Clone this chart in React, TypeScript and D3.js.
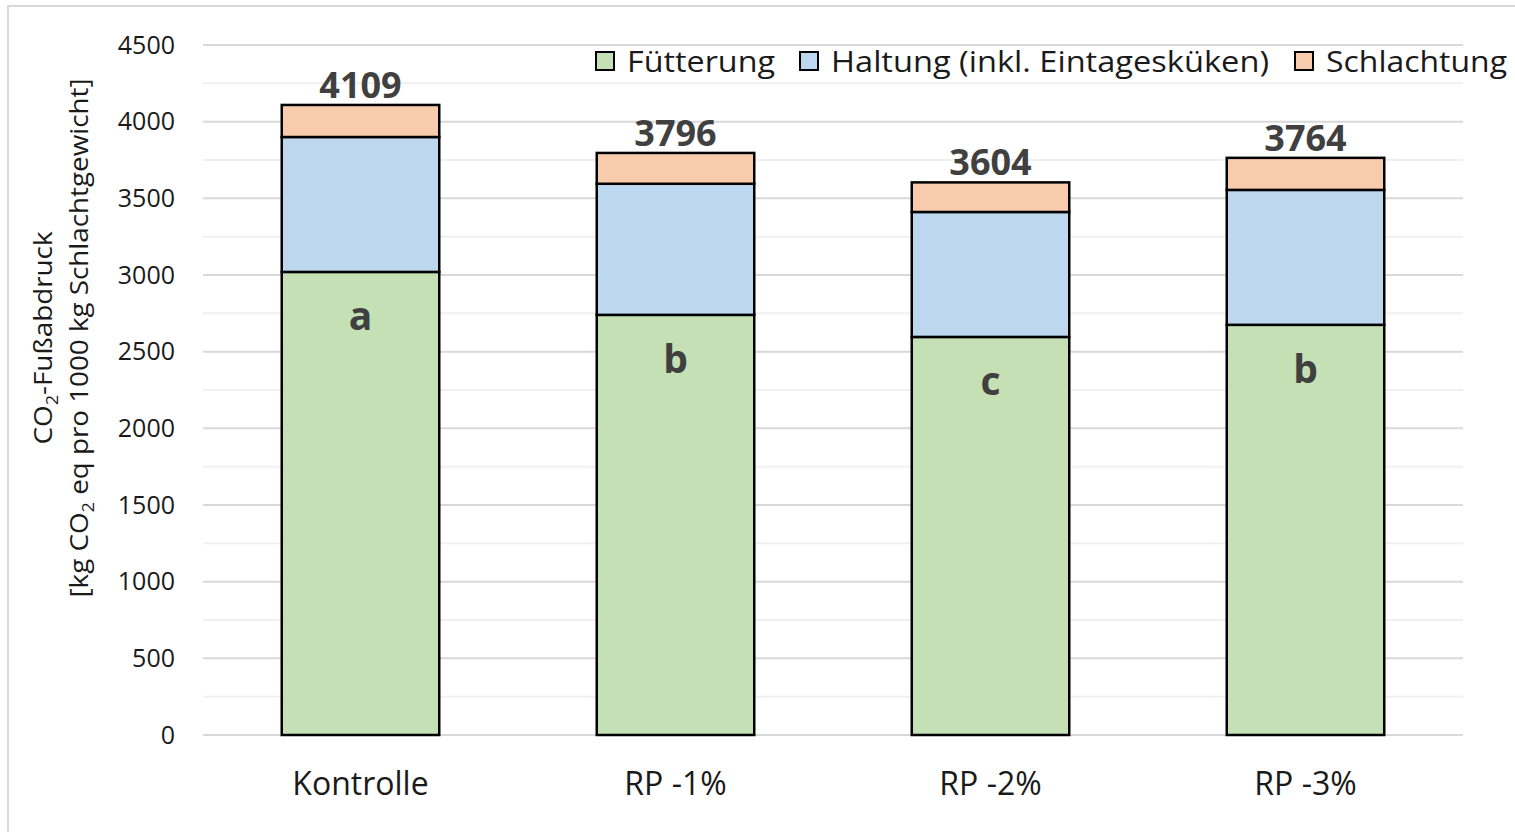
import * as d3 from 'd3';

const categories = ['Kontrolle', 'RP -1%', 'RP -2%', 'RP -3%'];
const seriesNames = ['Fütterung', 'Haltung (inkl. Eintagesküken)', 'Schlachtung'];
const fuetterung = [3020, 2740, 2596, 2675];
const haltung = [880, 855, 815, 880];
const schlachtung = [209, 201, 193, 209];
const totals = [4109, 3796, 3604, 3764];
const letters = ['a', 'b', 'c', 'b'];
const yTicks = [0, 500, 1000, 1500, 2000, 2500, 3000, 3500, 4000, 4500];

const colors = ['#c5e0b4', '#bdd7ee', '#f8cbad'];
const FONT = '"Open Sans", "Noto Sans", sans-serif';

export default function App() {
  const width = 1515;
  const height = 832;
  const plot = { left: 203, right: 1463, top: 45, bottom: 735 };

  const x = d3.scaleBand().domain(categories).range([plot.left, plot.right]).paddingInner(0.5).paddingOuter(0.25);
  const y = d3.scaleLinear().domain([0, 4500]).range([plot.bottom, plot.top]);

  const rows = categories.map((c, i) => ({ cat: c, f: fuetterung[i], h: haltung[i], s: schlachtung[i] }));
  const stack = d3.stack<any>().keys(['f', 'h', 's'])(rows);
  const minorTicks = d3.range(250, 4500, 500);

  // legend widths measured on the reference (Calibri is narrow)
  const legendX = [596, 800, 1295];
  const legendLen = [148, 438, 181];

  return (
    <svg width={width} height={height} style={{ position: 'absolute', left: 0, top: 0, background: '#fff' }} fontFamily={FONT}>
      <rect x={8} y={6} width={width} height={height} fill="#fff" stroke="#d9d9d9" strokeWidth={2} />

      {/* gridlines */}
      {minorTicks.map((t) => (
        <line key={'m' + t} x1={plot.left} x2={plot.right} y1={y(t)} y2={y(t)} stroke="#f0f0f0" strokeWidth={2} />
      ))}
      {yTicks.map((t) => (
        <line key={t} x1={plot.left} x2={plot.right} y1={y(t)} y2={y(t)} stroke="#d9d9d9" strokeWidth={2} />
      ))}
      {yTicks.map((t) => (
        <text key={'t' + t} x={175} y={y(t)} dy="0.35em" textAnchor="end" fontSize={25} fill="#1a1a1a">{t}</text>
      ))}

      {/* bars */}
      {stack.map((layer, li) => (
        <g key={li}>
          {layer.map((d, i) => (
            <rect key={i} x={x(categories[i])} width={x.bandwidth()} y={y(d[1])} height={y(d[0]) - y(d[1])}
              fill={colors[li]} stroke="#000" strokeWidth={2.5} />
          ))}
        </g>
      ))}

      {/* totals, letters, category labels */}
      {categories.map((c, i) => (
        <g key={c}>
          <text x={(x(c) as number) + x.bandwidth() / 2} y={y(totals[i]) - 7} textAnchor="middle" fontSize={36} fontWeight="bold" fill="#404040">{totals[i]}</text>
          <text x={(x(c) as number) + x.bandwidth() / 2} y={y(fuetterung[i]) + 58} textAnchor="middle" fontSize={39} fontWeight="bold" fill="#404040">{letters[i]}</text>
          <text x={(x(c) as number) + x.bandwidth() / 2} y={795} textAnchor="middle" fontSize={32} fill="#1a1a1a">{c}</text>
        </g>
      ))}

      {/* y title */}
      <g transform="translate(52,338) rotate(-90)">
        <text x={0} y={0} textAnchor="middle" fontSize={26} fill="#1a1a1a" textLength={213} lengthAdjust="spacingAndGlyphs">
          CO<tspan fontSize={17} dy={6}>2</tspan><tspan dy={-6}>-Fußabdruck</tspan>
        </text>
        <text x={0} y={36} textAnchor="middle" fontSize={26} fill="#1a1a1a" textLength={519} lengthAdjust="spacingAndGlyphs">
          [kg CO<tspan fontSize={17} dy={6}>2</tspan><tspan dy={-6}> eq pro 1000 kg Schlachtgewicht]</tspan>
        </text>
      </g>

      {/* legend */}
      {legendX.map((lx, i) => (
        <g key={i} transform={`translate(${lx},52)`}>
          <rect x={0} y={0} width={18} height={18} fill={colors[i]} stroke="#000" strokeWidth={2} />
          <text x={31} y={9} dy="0.36em" fontSize={30} fill="#1a1a1a" textLength={legendLen[i]} lengthAdjust="spacingAndGlyphs">{seriesNames[i]}</text>
        </g>
      ))}
    </svg>
  );
}
